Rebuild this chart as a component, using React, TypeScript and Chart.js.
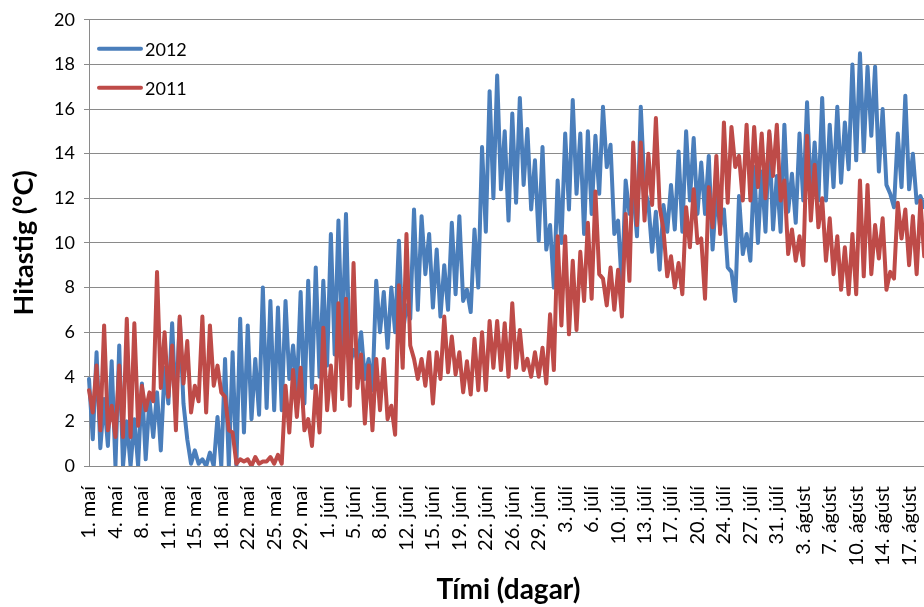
import React, { useEffect, useRef } from 'react';
import { Chart, registerables } from 'chart.js';

Chart.register(...registerables);

// Axis labels shown every 3.5 days (7 readings, two per day)
const tickDates = [
  '1. maí', '4. maí', '8. maí', '11. maí', '15. maí', '18. maí', '22. maí', '25. maí', '29. maí',
  '1. júní', '5. júní', '8. júní', '12. júní', '15. júní', '19. júní', '22. júní', '26. júní', '29. júní',
  '3. júlí', '6. júlí', '10. júlí', '13. júlí', '17. júlí', '20. júlí', '24. júlí', '27. júlí', '31. júlí',
  '3. ágúst', '7. ágúst', '10. ágúst', '14. ágúst', '17. ágúst',
];
const readingsPerTick = 7;

// 2012: first reading, then night low / day high for each day
const start2012 = 3.9;
const may2012 = [
  1.2, 5.1, 0.8, 3.0, 0.9, 4.7, 0.0, 5.4, 0.0, 2.0, 0.0, 2.1, 0.0, 3.7, 0.3, 3.0,
  1.3, 3.3, 0.7, 4.4, 2.8, 6.4, 2.5, 6.6, 2.8, 1.2, 0.1, 0.7, 0.1, 0.3, 0.0, 0.6,
  0.0, 2.2, 0.0, 4.8, 0.0, 5.1, 0.0, 6.6, 1.5, 6.3, 2.1, 4.8, 2.3, 8.0, 2.6, 7.4,
  2.5, 7.1, 2.5, 7.4, 3.9, 5.4, 3.3, 7.8, 2.8, 8.3, 3.5, 8.9, 4.0, 8.3,
];
const jun2012 = [
  4.5, 10.4, 5.0, 11.0, 5.3, 11.3, 4.5, 5.2, 4.8, 6.0, 3.9, 4.8, 3.4, 8.3, 6.0, 7.8,
  5.3, 8.0, 6.0, 10.1, 5.9, 7.2, 6.6, 11.5, 7.0, 11.2, 8.6, 10.4, 7.1, 9.7, 6.7, 9.0,
  7.0, 10.9, 7.7, 11.2, 7.4, 7.9, 6.9, 10.6, 8.0, 14.3, 10.5, 16.8, 12.0, 17.5, 12.4, 15.0,
  11.0, 15.8, 11.8, 16.5, 12.6, 15.1, 11.5, 13.7, 10.1, 14.3, 9.7, 10.8,
];
const jul2012 = [
  8.0, 12.8, 10.0, 14.9, 11.5, 16.4, 12.2, 14.9, 10.4, 15.0, 11.3, 14.8, 12.2, 16.1, 13.4, 14.4,
  10.4, 11.0, 8.0, 12.8, 11.3, 12.3, 10.3, 16.1, 12.4, 11.8, 9.6, 11.4, 8.8, 11.7, 10.5, 12.6,
  10.6, 14.1, 10.5, 15.0, 11.9, 14.7, 11.3, 13.6, 11.3, 13.9, 9.7, 12.2, 10.7, 11.5, 8.9, 8.7,
  7.4, 12.1, 9.5, 10.4, 9.2, 13.4, 10.0, 13.2, 10.5, 14.9, 10.6, 13.0, 10.5, 15.3,
];
const aug2012 = [
  11.4, 13.1, 10.9, 14.9, 11.9, 16.3, 12.0, 14.5, 11.9, 16.5, 11.9, 15.3, 12.5, 16.1, 12.7, 15.4,
  13.3, 18.0, 13.7, 18.5, 14.1, 17.9, 14.8, 17.9, 13.2, 16.0, 12.6, 12.2, 11.6, 14.9, 12.5, 16.6,
  12.4, 14.0, 11.8, 12.1, 11.6, 11.8,
];

// 2011: first reading, then night low / day high for each day
const start2011 = 3.4;
const may2011 = [
  2.4, 4.5, 1.6, 6.3, 1.6, 2.7, 1.3, 4.5, 1.3, 6.6, 1.3, 6.4, 1.8, 3.6, 2.5, 3.3,
  2.9, 8.7, 3.5, 6.0, 3.1, 5.4, 1.6, 6.7, 3.7, 5.6, 2.4, 3.6, 2.9, 6.7, 2.4, 6.3,
  3.6, 4.5, 3.3, 3.1, 1.6, 1.5, 0.1, 0.3, 0.2, 0.3, 0.0, 0.4, 0.1, 0.2, 0.2, 0.4,
  0.1, 0.5, 0.1, 3.6, 1.5, 4.3, 2.2, 4.4, 1.6, 2.1, 0.9, 3.6, 1.5, 6.2,
];
const jun2011 = [
  2.5, 4.5, 2.5, 7.3, 3.0, 7.5, 2.7, 9.1, 3.5, 5.0, 1.9, 4.5, 1.6, 4.8, 2.5, 4.8,
  2.1, 2.7, 1.4, 8.1, 4.4, 10.4, 5.4, 4.8, 3.9, 4.8, 3.6, 5.1, 2.8, 5.1, 3.9, 6.7,
  4.2, 5.8, 4.1, 5.1, 3.3, 4.7, 3.2, 5.7, 3.4, 6.0, 3.4, 6.5, 4.4, 6.5, 4.3, 6.4,
  4.0, 7.3, 4.4, 6.1, 4.3, 4.8, 4.0, 5.1, 4.0, 5.3, 3.7, 6.8,
];
const jul2011 = [
  4.3, 10.3, 6.3, 10.3, 5.9, 9.2, 6.1, 9.6, 7.4, 10.9, 7.5, 12.3, 8.6, 8.4, 7.2, 8.9,
  7.0, 8.8, 6.7, 11.3, 8.3, 14.5, 10.8, 14.5, 11.0, 14.0, 11.7, 15.6, 11.6, 10.6, 8.5, 9.4,
  8.0, 9.1, 7.7, 11.6, 9.8, 12.4, 10.0, 10.2, 7.5, 12.5, 10.7, 13.9, 10.4, 15.4, 11.8, 15.2,
  13.4, 13.9, 11.9, 15.3, 11.9, 15.2, 12.5, 14.9, 12.0, 15.0, 13.0, 15.3, 11.9, 12.8,
];
const aug2011 = [
  9.5, 10.6, 9.2, 10.3, 9.0, 14.8, 11.0, 13.5, 10.7, 12.0, 9.2, 11.1, 8.6, 10.3, 7.9, 9.8,
  7.7, 10.4, 7.7, 12.8, 8.5, 12.6, 8.6, 10.8, 9.3, 11.1, 7.9, 8.7, 8.4, 11.8, 10.2, 11.5,
  9.0, 11.2, 8.6, 11.9, 9.4, 10.5,
];

const series2012 = [start2012, ...may2012, ...jun2012, ...jul2012, ...aug2012];
const series2011 = [start2011, ...may2011, ...jun2011, ...jul2011, ...aug2011];

const labels = series2012.map((_, i) =>
  i % readingsPerTick === 0 ? tickDates[i / readingsPerTick] ?? '' : ''
);

const FONT = 'Lato, "Liberation Sans", sans-serif';
const GRID = '#8a8a8a';

// Legend drawn inside the plot, top-left
const insideLegend = {
  id: 'insideLegend',
  afterDraw(chart: any) {
    const { ctx, chartArea } = chart;
    chart.data.datasets.forEach((ds: any, i: number) => {
      const y = chartArea.top + 29 + i * 39;
      ctx.save();
      ctx.strokeStyle = ds.borderColor;
      ctx.lineWidth = 4;
      ctx.lineCap = 'round';
      ctx.beginPath();
      ctx.moveTo(chartArea.left + 10, y);
      ctx.lineTo(chartArea.left + 52, y);
      ctx.stroke();
      ctx.fillStyle = '#000';
      ctx.font = `18px ${FONT}`;
      ctx.textBaseline = 'middle';
      ctx.textAlign = 'left';
      ctx.fillText(ds.label, chartArea.left + 56, y + 1);
      ctx.restore();
    });
  },
};

export default function App() {
  const canvasRef = useRef<HTMLCanvasElement>(null);

  useEffect(() => {
    const canvas = canvasRef.current;
    if (!canvas) return;
    const chart = new Chart(canvas, {
      type: 'line',
      data: {
        labels,
        datasets: [
          {
            label: '2012',
            data: series2012,
            borderColor: '#4A7EBB',
            borderWidth: 4,
            pointRadius: 0,
            tension: 0,
            borderJoinStyle: 'round',
            borderCapStyle: 'round',
            order: 1,
          },
          {
            label: '2011',
            data: series2011,
            borderColor: '#BE4B48',
            borderWidth: 4,
            pointRadius: 0,
            tension: 0,
            borderJoinStyle: 'round',
            borderCapStyle: 'round',
            order: 0,
          },
        ],
      },
      options: {
        responsive: false,
        animation: false,
        events: [],
        layout: { padding: { top: 19, right: 2, left: 0, bottom: 0 } },
        plugins: {
          legend: { display: false },
          tooltip: { enabled: false },
        },
        scales: {
          x: {
            afterFit(scale: any) {
              scale.height = 141;
              scale.paddingLeft = 0;
              scale.paddingRight = 0;
            },
            grid: { display: false, drawTicks: false },
            border: { display: true, color: GRID, width: 1 },
            ticks: {
              autoSkip: false,
              maxRotation: 90,
              minRotation: 90,
              padding: 20,
              color: '#000',
              font: { family: FONT, size: 20 },
            },
            title: {
              display: true,
              text: 'Tími (dagar)',
              color: '#000',
              font: { family: FONT, size: 28, weight: 'bold' },
              padding: { top: 0, bottom: 0 },
            },
          },
          y: {
            min: 0,
            max: 20,
            afterFit(scale: any) {
              scale.width = 89;
            },
            grid: { color: GRID, lineWidth: 1, tickLength: 5 },
            border: { display: true, color: GRID, width: 1 },
            ticks: {
              stepSize: 2,
              padding: 9,
              color: '#000',
              font: { family: FONT, size: 18 },
            },
            title: {
              display: true,
              text: 'Hitastig (°C)',
              color: '#000',
              font: { family: FONT, size: 27, weight: 'bold' },
              padding: { top: 8, bottom: 0 },
            },
          },
        },
      },
      plugins: [insideLegend],
    });
    return () => chart.destroy();
  }, []);

  return (
    <div
      style={{
        position: 'fixed',
        left: 0,
        top: 0,
        width: 924,
        height: 607,
        overflow: 'hidden',
        background: '#fff',
      }}
    >
      <canvas ref={canvasRef} width={930} height={607} style={{ display: 'block' }} />
    </div>
  );
}
